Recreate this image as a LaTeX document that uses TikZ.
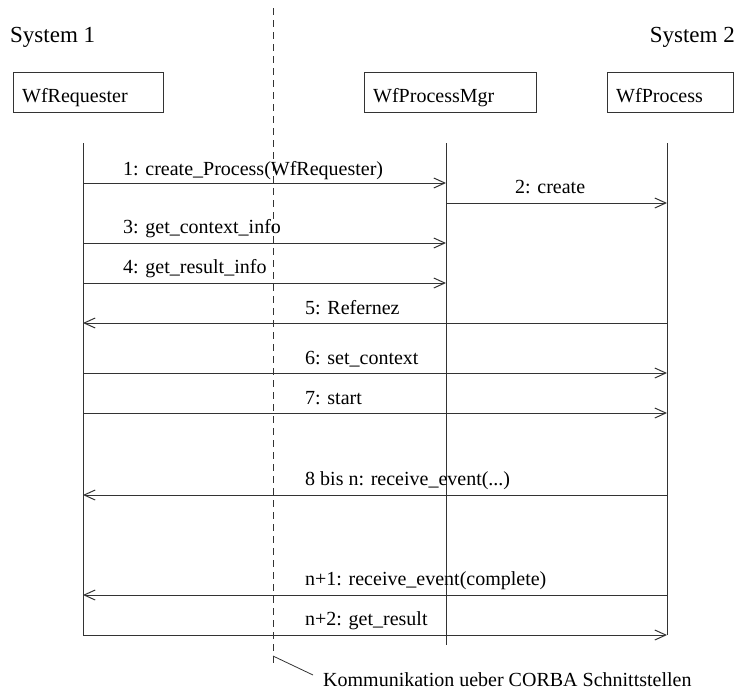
\documentclass[tikz,border=0pt]{standalone}
\usepackage{fontspec}
\setmainfont{Liberation Serif}
\usetikzlibrary{arrows.meta}
\begin{document}
\begin{tikzpicture}[x=1pt,y=-1pt,
  line/.style={draw=black!80, line width=1pt},
  objbox/.style={line, rectangle, anchor=north west, minimum height=40pt, inner sep=0pt},
  txt/.style={anchor=base west, inner sep=0pt, font=\fontsize{20}{24}\selectfont},
  systxt/.style={inner sep=0pt, font=\fontsize{23}{27}\selectfont},
  msg/.style={line, -{Straight Barb[length=11pt,width=10pt,line width=1pt]}},
  sep/.style={line, dash pattern=on 7pt off 5pt}]
\useasboundingbox (0,0) rectangle (738,688);

% system headings
\node[systxt, anchor=base west] (sys1) at (10,42) {System 1};
\node[systxt, anchor=base east] (sys2) at (735,42) {System 2};

% objects
\node[objbox, minimum width=150pt] (req) at (13,72) {};
\node[txt] (reqlbl) at (22,102) {WfRequester};
\node[objbox, minimum width=172pt] (mgr) at (364,72) {};
\node[txt] (mgrlbl) at (373,102) {WfProcessMgr};
\node[objbox, minimum width=126pt] (proc) at (607,72) {};
\node[txt] (proclbl) at (616,102) {WfProcess};

% lifelines
\coordinate (Rt) at (83,143);  \coordinate (Rb) at (83,635);
\coordinate (Mt) at (446,143); \coordinate (Mb) at (446,645);
\coordinate (Pt) at (667,143); \coordinate (Pb) at (667,635);
\draw[line] (Rt) -- (Rb);
\draw[line] (Mt) -- (Mb);
\draw[line] (Pt) -- (Pb);

% boundary between the two systems
\coordinate (St) at (273,8);
\coordinate (Sb) at (273,663);
\draw[sep] (St) -- (Sb);

% messages
\foreach \n/\y in {1/183,3/243,4/283}{
  \coordinate (R\n) at (83,\y); \coordinate (M\n) at (446,\y);
  \draw[msg] (R\n) -- (M\n);
}
\coordinate (M2) at (446,203); \coordinate (P2) at (667,203);
\draw[msg] (M2) -- (P2);
\foreach \n/\y in {6/373,7/413,12/635}{
  \coordinate (R\n) at (83,\y); \coordinate (P\n) at (667,\y);
  \draw[msg] (R\n) -- (P\n);
}
\foreach \n/\y in {5/323,8/495,11/595}{
  \coordinate (R\n) at (83,\y); \coordinate (P\n) at (667,\y);
  \draw[msg] (P\n) -- (R\n);
}

% message labels
\node[txt] (l1) at (123,175) {1: create\_Process(WfRequester)};
\node[txt] (l2) at (515,193) {2: create};
\node[txt] (l3) at (123,233) {3: get\_context\_info};
\node[txt] (l4) at (123,273) {4: get\_result\_info};
\node[txt] (l5) at (305,314) {5: Refernez};
\node[txt] (l6) at (305,364) {6: set\_context};
\node[txt] (l7) at (305,404) {7: start};
\node[txt] (l8) at (305,485) {8 bis n: receive\_event(...)};
\node[txt] (l11) at (305,585) {n+1: receive\_event(complete)};
\node[txt] (l12) at (305,625) {n+2: get\_result};

% note on the boundary
\node[txt] (note) at (323,686) {Kommunikation ueber CORBA Schnittstellen};
\coordinate (Na) at (273,656);
\coordinate (Nb) at (313,675);
\draw[line, line width=0.8pt] (Na) -- (Nb);
\end{tikzpicture}
\end{document}
